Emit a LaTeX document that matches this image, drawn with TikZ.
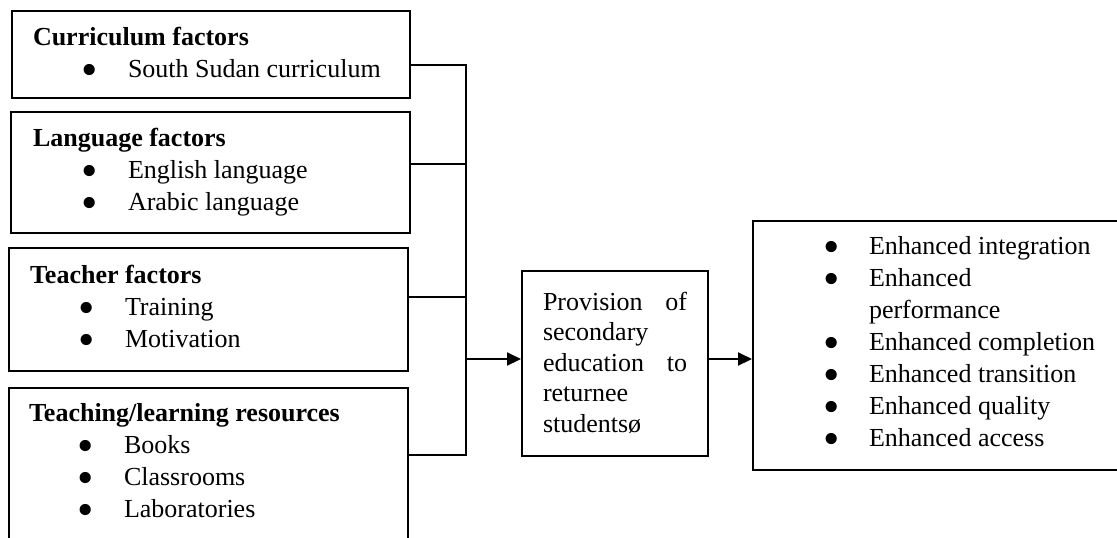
\documentclass[tikz,border=0pt]{standalone}
\usepackage{fontspec}
\usepackage{graphicx}
\setmainfont{Liberation Serif}
\usetikzlibrary{arrows.meta, positioning}
\newcommand{\bigdot}{\raisebox{-4pt}[0pt][0pt]{\scalebox{1.8}{\textbullet}}}
\newcommand{\bitem}[1]{\hspace*{24.5pt}\makebox[23pt][l]{\bigdot}#1}
\newcommand{\ritem}[1]{\makebox[23pt][l]{\bigdot}#1}
\tikzset{
  every picture/.style={line width=1pt},
  box/.style={draw, rectangle, anchor=north west, inner sep=0pt},
  txt/.style={anchor=base west, inner sep=0pt, align=left, font=\fontsize{13}{16}\selectfont},
  arrow/.style={-{Triangle[length=7pt, width=6.5pt]}},
}

\begin{document}
\begin{tikzpicture}[x=0.5pt, y=-0.5pt]
  \useasboundingbox (0,0) rectangle (1117,537);
  \clip (0,0) rectangle (1117,537);
  \node[box, minimum width=199pt, minimum height=43.5pt] (cur) at (11,10) {};
  \node[box, minimum width=199.5pt, minimum height=60.5pt] (lang) at (10,111) {};
  \node[box, minimum width=199.5pt, minimum height=61.5pt] (tch) at (8,247) {};
  \node[box, minimum width=199.5pt, minimum height=85pt] (res) at (8,387) {};
  \node[box, minimum width=93pt, minimum height=92.5pt] (prov) at (521,270) {};
  \node[box, minimum width=200pt, minimum height=124.5pt] (out) at (752,220) {};
  \node[txt] (curtxt) at (32,77) {\textbf{Curriculum factors}\\\bitem{South Sudan curriculum}};
  \node[txt] (langtxt) at (32,210) {\textbf{Language factors}\\\bitem{English language}\\\bitem{Arabic language}};
  \node[txt] (tchtxt) at (29,347) {\textbf{Teacher factors}\\\bitem{Training}\\\bitem{Motivation}};
  \node[txt] (restxt) at (28,517) {\textbf{Teaching/learning resources}\\\bitem{Books}\\\bitem{Classrooms}\\\bitem{Laboratories}};
  \node[txt, font=\fontsize{13}{15.25}\selectfont] (provtxt) at (542,432) {\makebox[72pt][s]{Provision of}\\secondary\\\makebox[72pt][s]{education to}\\returnee\\studentsø};
  \node[txt] (outtxt) at (822,446) {\ritem{Enhanced integration}\\\ritem{Enhanced}\\\hspace*{23pt}performance\\\ritem{Enhanced completion}\\\ritem{Enhanced transition}\\\ritem{Enhanced quality}\\\ritem{Enhanced access}};
  \coordinate (bustop) at (466,65);
  \coordinate (langjn) at (466,164);
  \coordinate (tchjn) at (466,297);
  \coordinate (busmid) at (466,359);
  \coordinate (busbot) at (466,455);
  \draw (cur.east |- bustop) -- (bustop) -- (busbot) -- (res.east |- busbot);
  \draw (lang.east |- langjn) -- (langjn);
  \draw (tch.east |- tchjn) -- (tchjn);
  \draw[arrow] (busmid) -- (prov.west |- busmid);
  \draw[arrow] (prov.east |- busmid) -- (out.west |- busmid);
\end{tikzpicture}
\end{document}
